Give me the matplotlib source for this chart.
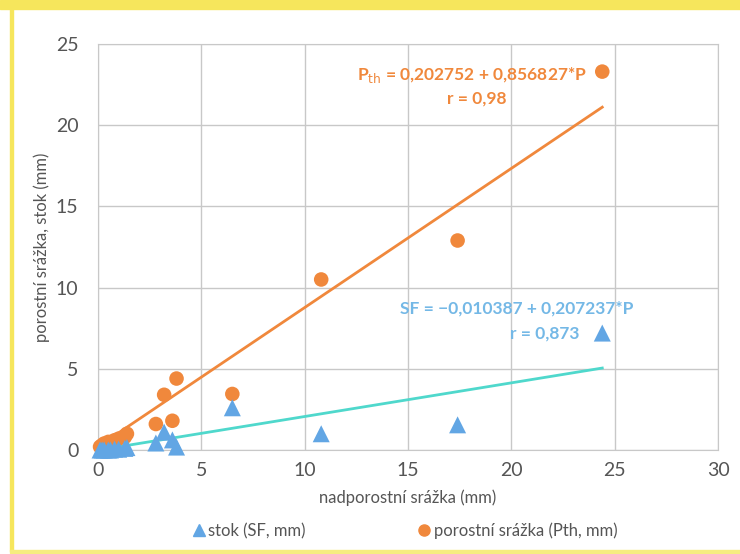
import matplotlib
matplotlib.use('Agg')
import matplotlib.pyplot as plt
from matplotlib.patches import Rectangle
from matplotlib.lines import Line2D
import numpy as np

# nadporostni srazka P (mm)
P = [0.1, 0.2, 0.3, 0.5, 0.6, 0.8, 1.0, 1.3, 1.4, 2.8, 3.2, 3.6, 3.8, 6.5, 10.8, 17.4, 24.4]
# porostni srazka Pth (mm)
Pth = [0.2, 0.3, 0.4, 0.5, 0.4, 0.6, 0.7, 0.8, 1.0, 1.6, 3.4, 1.8, 4.4, 3.45, 10.5, 12.9, 23.3]
# stok SF (mm)
SF = [0.0, 0.0, 0.0, 0.0, 0.0, 0.05, 0.05, 0.1, 0.15, 0.43, 1.1, 0.62, 0.18, 2.6, 1.0, 1.55, 7.2]

pth_coef = [0.202752, 0.856827]
sf_coef = [-0.010387, 0.207237]

orange = '#f0883c'
blue = '#62a6e4'
teal = '#4fd8cc'
lblue = '#74b8e6'
grey_txt = '#555555'

plt.rcParams['font.family'] = ['Lato', 'DejaVu Sans']

W, H = 740, 554
fig = plt.figure(figsize=(7.4, 5.54), dpi=100, facecolor='white')
# yellow page frame of the scan
fig.patches.append(Rectangle((0, 1 - 9/H), 1, 9/H, transform=fig.transFigure,
                             color='#f6e65c', zorder=0))
fig.patches.append(Rectangle((10/W, 3/H), 3/W, 1, transform=fig.transFigure,
                             color='#f6e65c', zorder=0))
fig.patches.append(Rectangle((10/W, 1/H), 1, 3/H, transform=fig.transFigure,
                             color='#f6ec80', zorder=0))

ax = fig.add_axes([98/W, 1 - 450/H, 620/W, 406/H])
ax.set_xlim(0, 30)
ax.set_ylim(0, 25)
ax.set_xticks([0, 5, 10, 15, 20, 25, 30])
ax.set_yticks([0, 5, 10, 15, 20, 25])
ax.grid(True, color='#c8c8c8', lw=1)
ax.set_axisbelow(True)
for s in ax.spines.values():
    s.set_color('#c8c8c8')
ax.tick_params(length=0, labelsize=14, labelcolor=grey_txt)
ax.tick_params(axis='x', pad=9)
ax.tick_params(axis='y', pad=14)

x = np.array([min(P), max(P)])
ax.plot(x, pth_coef[0] + pth_coef[1]*x, color=orange, lw=2, zorder=2)
ax.plot(x, sf_coef[0] + sf_coef[1]*x, color=teal, lw=2, zorder=2)
ax.scatter(P, Pth, s=110, color=orange, edgecolors='none', zorder=3, clip_on=False)
ax.scatter(P, SF, s=150, marker='^', color=blue, edgecolors='none', zorder=4, clip_on=False)


def ftext(px, py, s, color, ha='center'):
    # place text by pixel position measured from the top-left corner
    fig.text(px/W, 1 - py/H, s, color=color, fontsize=12.5, fontweight='bold',
             ha=ha, va='center')


ftext(472, 75, r'P$_{\mathrm{th}}$ = 0,202752 + 0,856827*P', orange)
ftext(477, 99, 'r = 0,98', orange)
ftext(517, 309, 'SF = \u22120,010387 + 0,207237*P', lblue)
ftext(580, 334, 'r = 0,873', lblue, ha='right')

ax.set_xlabel('nadporostní srážka (mm)', fontsize=12, color=grey_txt, labelpad=7)
ax.set_ylabel('porostní srážka, stok (mm)', fontsize=12, color=grey_txt, labelpad=4)

handles = [Line2D([], [], ls='none', marker='^', color=blue, markersize=8),
           Line2D([], [], ls='none', marker='o', color=orange, markersize=8)]
fig.legend(handles, ['stok (SF, mm)', 'porostní srážka (Pth, mm)'], loc='center',
           bbox_to_anchor=(405/W, 1 - 531/H), ncol=2, frameon=False, fontsize=12,
           handlelength=0.7, handletextpad=0.2, columnspacing=6.8, labelcolor=grey_txt)

fig.savefig('out.png', dpi=100, facecolor='white')
